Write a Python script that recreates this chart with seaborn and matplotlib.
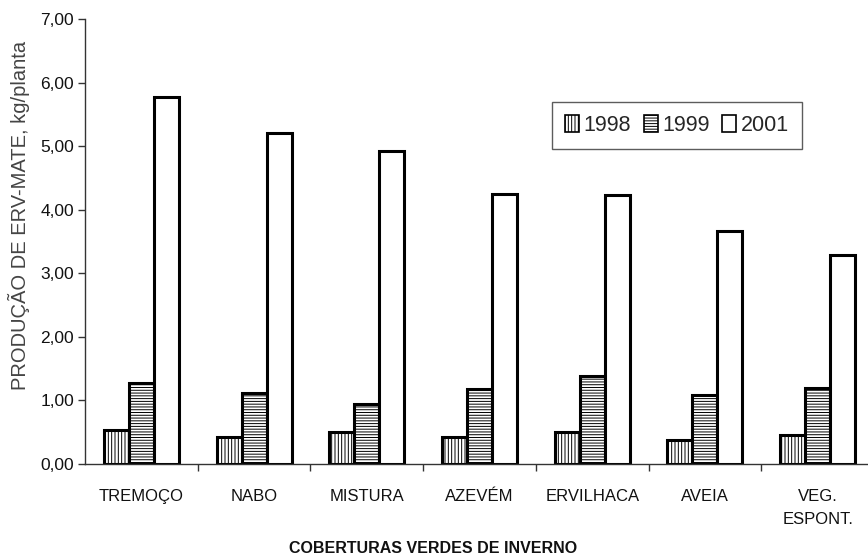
import matplotlib
matplotlib.use("Agg")
import matplotlib.pyplot as plt
import seaborn as sns
import pandas as pd
from matplotlib.ticker import FuncFormatter, FixedLocator
from matplotlib.patches import Patch

# Produção de erva-mate por cobertura verde de inverno
coberturas = ["TREMOÇO", "NABO", "MISTURA", "AZEVÉM", "ERVILHACA", "AVEIA", "VEG.\nESPONT."]
anos = ["1998", "1999", "2001"]
prod_1998 = [0.54, 0.43, 0.50, 0.42, 0.51, 0.38, 0.46]
prod_1999 = [1.28, 1.11, 0.94, 1.18, 1.39, 1.08, 1.19]
prod_2001 = [5.77, 5.20, 4.92, 4.24, 4.23, 3.66, 3.29]

df = pd.DataFrame({
    "cobertura": coberturas * 3,
    "ano": [a for a in anos for _ in coberturas],
    "producao": prod_1998 + prod_1999 + prod_2001,
})

sns.set_theme(style="white")
plt.rcParams["font.family"] = ["Liberation Sans", "DejaVu Sans"]
plt.rcParams["hatch.linewidth"] = 0.7
plt.rcParams["hatch.color"] = "#444444"

fig = plt.figure(figsize=(8.68, 5.59), dpi=100)
ax = fig.add_axes([85 / 868, 1 - 464 / 559, (874 - 85) / 868, (464 - 19) / 559])

sns.barplot(data=df, x="cobertura", y="producao", hue="ano", order=coberturas,
            hue_order=anos, width=0.666, palette=["white"] * 3,
            edgecolor="black", linewidth=2.2, saturation=1, ax=ax, legend=False)

hatches = ["|||||", "------", ""]
for cont, h in zip(ax.containers, hatches):
    for bar in cont:
        bar.set_hatch(h)
        bar.set_facecolor("white")
        bar.set_edgecolor("black")

ax.set_ylim(0, 7)
ax.set_xlim(-0.5, 6.5)
ax.set_yticks([0, 1, 2, 3, 4, 5, 6, 7])
ax.yaxis.set_major_formatter(FuncFormatter(lambda v, p: f"{v:.2f}".replace(".", ",")))
ax.tick_params(axis="y", which="major", left=True, length=5, width=1,
               color="#333333", labelsize=12.5, pad=3, labelcolor="#111111")
ax.tick_params(axis="x", which="major", bottom=False, length=0, labelsize=12,
               pad=18, labelcolor="#111111")
for lbl in ax.get_xticklabels():
    lbl.set_linespacing(1.65)
ax.xaxis.set_minor_locator(FixedLocator([0.5, 1.5, 2.5, 3.5, 4.5, 5.5]))
ax.tick_params(axis="x", which="minor", bottom=True, length=5, width=1, color="#333333")

for side in ["top", "right"]:
    ax.spines[side].set_visible(False)
for side in ["left", "bottom"]:
    ax.spines[side].set_color("#333333")
    ax.spines[side].set_linewidth(1)

ax.set_ylabel("PRODUÇÃO DE ERV-MATE, kg/planta", fontsize=14.5, color="#444444")
ax.set_xlabel("COBERTURAS VERDES DE INVERNO", fontsize=11.5, fontweight="bold",
              color="#111111")
ax.xaxis.set_label_coords((433 - 85) / (874 - 85), -(541 - 464) / (464 - 19))
ax.yaxis.set_label_coords(-(85 - 30) / (874 - 85), (464 - 215) / (464 - 19))

handles = [Patch(facecolor="white", edgecolor="black", hatch=h, linewidth=1.2) for h in hatches]
leg = ax.legend(handles, anos, loc="upper left",
                bbox_to_anchor=((552 - 85) / (874 - 85), (464 - 102) / (464 - 19)),
                ncol=3, frameon=True, fancybox=False, fontsize=15.5,
                handlelength=0.65, handleheight=0.8, handletextpad=0.2,
                columnspacing=0.6, borderpad=0.6, borderaxespad=0)
leg.get_frame().set_edgecolor("#333333")
leg.get_frame().set_linewidth(1)

fig.savefig("out.png", dpi=100, facecolor="white")
